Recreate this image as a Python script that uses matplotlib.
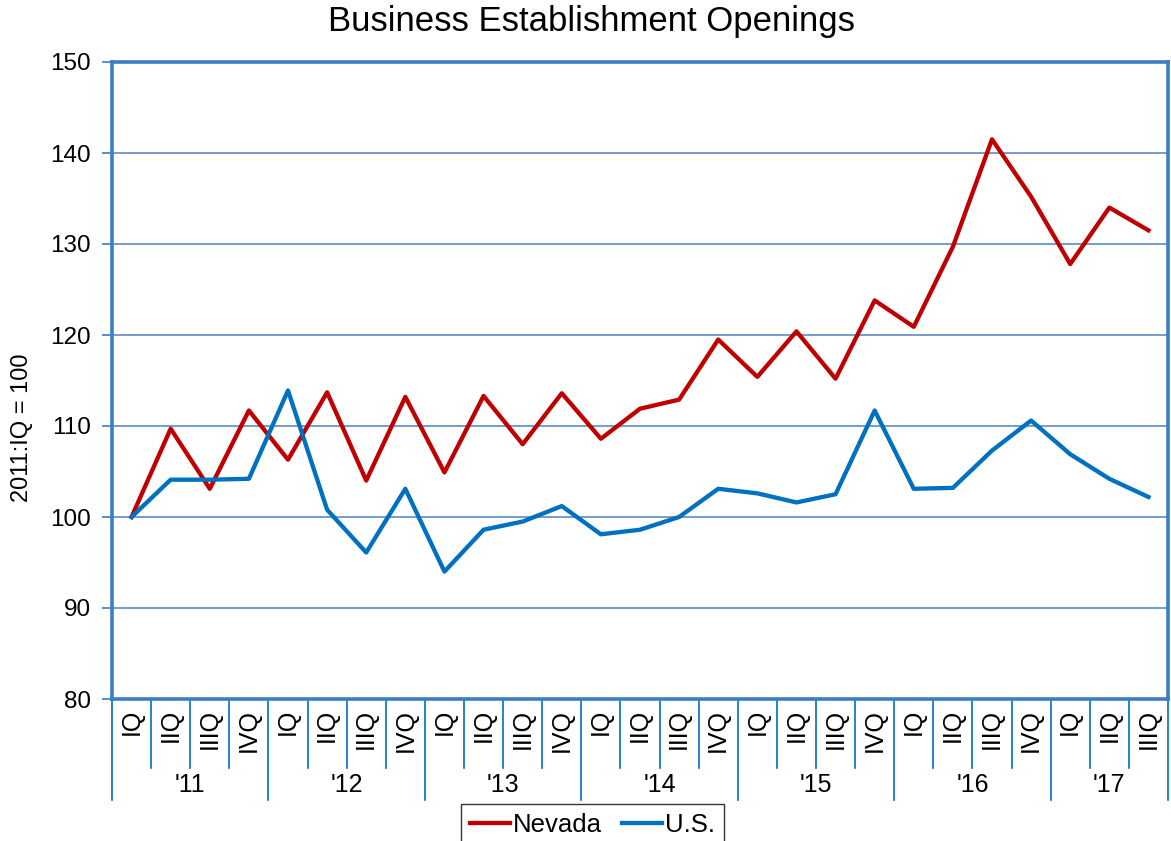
import matplotlib
matplotlib.use('Agg')
import matplotlib.pyplot as plt
from matplotlib.transforms import blended_transform_factory

quarters = ['IQ', 'IIQ', 'IIIQ', 'IVQ'] * 6 + ['IQ', 'IIQ', 'IIIQ']
years = ["'11", "'12", "'13", "'14", "'15", "'16", "'17"]
nevada = [100.0, 109.7, 103.1, 111.7, 106.3, 113.7, 104.0, 113.2, 104.9, 113.3, 108.0, 113.6,
          108.6, 111.9, 112.9, 119.5, 115.4, 120.4, 115.2, 123.8, 120.9, 129.7, 141.5, 135.2,
          127.8, 134.0, 131.5]
us = [100.0, 104.1, 104.1, 104.2, 113.9, 100.8, 96.1, 103.1, 94.0, 98.6, 99.5, 101.2,
      98.1, 98.6, 100.0, 103.1, 102.6, 101.6, 102.5, 111.7, 103.1, 103.2, 107.3, 110.6,
      106.9, 104.2, 102.2]
yticks = [80, 90, 100, 110, 120, 130, 140, 150]

plt.rcParams['font.family'] = ['Liberation Sans', 'DejaVu Sans']

W, H = 1171, 841
fig = plt.figure(figsize=(W / 100, H / 100), dpi=100)
L, R, T, B = 112, 1168, 62, 699
ax = fig.add_axes([L / W, 1 - B / H, (R - L) / W, (B - T) / H])

x = list(range(len(nevada)))
ax.plot(x, nevada, color='#C00000', lw=3.1, label='Nevada', zorder=3)
ax.plot(x, us, color='#0070C0', lw=3.1, label='U.S.', zorder=3)

ax.set_xlim(-0.5, len(nevada) - 0.5)
ax.set_ylim(80, 150)
ax.set_yticks(yticks)
ax.set_yticklabels([str(v) for v in yticks], fontsize=17.5)
ax.tick_params(axis='y', direction='out', length=7, width=1.2, color='#3C7DC4', pad=8)
ax.set_xticks([])
ax.yaxis.grid(True, color='#4F81BD', lw=1.1)
ax.set_axisbelow(True)
for s in ax.spines.values():
    s.set_color('#3C7DC4')
    s.set_linewidth(2.6)

trans = blended_transform_factory(ax.transData, ax.transAxes)
ppx = 1.0 / (B - T)
for i, q in enumerate(quarters):
    ax.text(i, -10 * ppx, q, rotation=90, ha='center', va='top', fontsize=18,
            transform=trans, clip_on=False)
# dividers
n = len(quarters)
for i in range(n + 1):
    xb = i - 0.5
    long = (i % 4 == 0) or i == n
    y1 = -(101 if long else 69) * ppx
    ax.plot([xb, xb], [0, y1], color='#0070C0', lw=1.2, transform=trans, clip_on=False)
# year labels
for k, yl in enumerate(years):
    start = 4 * k
    end = min(4 * k + 4, n)
    xc = (start + end - 1) / 2
    ax.text(xc, -86 * ppx, yl, ha='center', va='center', fontsize=18,
            transform=trans, clip_on=False)

fig.text(592 / W, 1 - 22 / H, 'Business Establishment Openings', ha='center', va='center',
         fontsize=25)
fig.text(22 / W, 1 - 428 / H, '2011:IQ = 100', rotation=90, ha='center', va='center',
         fontsize=17)

leg = fig.legend(loc='upper center', bbox_to_anchor=(592.5 / W, 1 - 804 / H), ncol=2,
                 fontsize=18.5, frameon=True, fancybox=False, handlelength=1.55,
                 handletextpad=0.1, columnspacing=0.8, borderpad=0.35,
                 borderaxespad=0)
leg.get_frame().set_edgecolor('black')
leg.get_frame().set_linewidth(1.0)

fig.savefig('out.png', dpi=100)
